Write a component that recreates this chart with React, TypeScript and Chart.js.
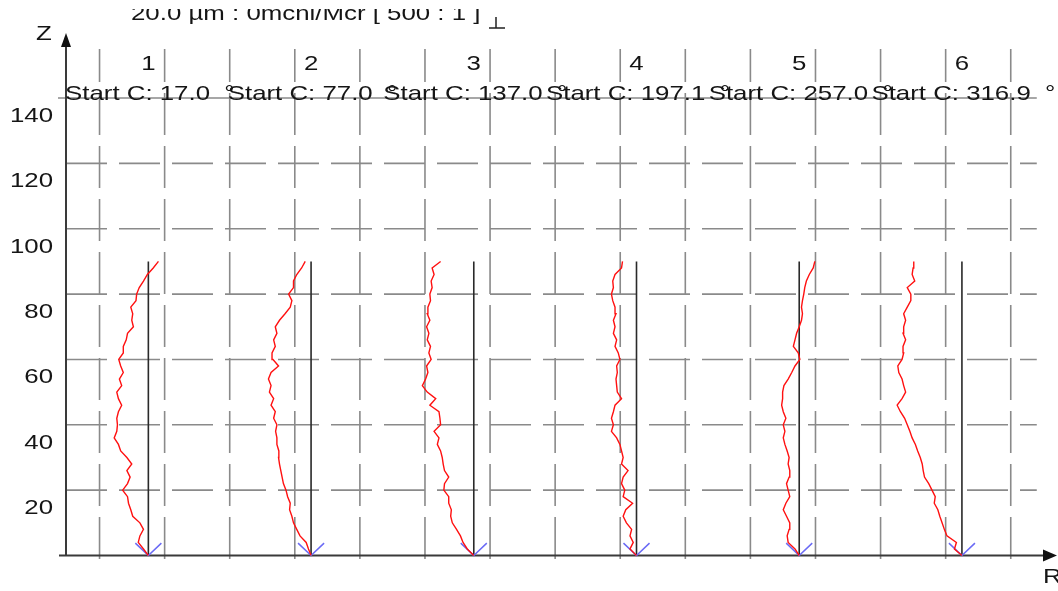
import React, { useEffect, useRef } from "react";
import { Chart, registerables } from "chart.js";

Chart.register(...registerables);

// ---- data ----
const Z_LEVELS = [0, 2, 4, 6, 8, 10, 12, 14, 16, 18, 20, 22, 24, 26, 28, 30, 32, 34, 36, 38, 40, 42, 44, 46, 48, 50, 52, 54, 56, 58, 60, 62, 64, 66, 68, 70, 72, 74, 76, 78, 80, 82, 84, 86, 88, 90];
const PROFILE_LABELS = ["1", "2", "3", "4", "5", "6"];
const START_ANGLES = ["17.0", "77.0", "137.0", "197.1", "257.0", "316.9"];
const PROFILE_R = [25, 75, 125, 175, 225, 275];
const PROFILE_TOP = 90;
const Y_TICKS = [20, 40, 60, 80, 100, 120, 140];
const GRID_R = [10, 30, 50, 70, 90, 110, 130, 150, 170, 190, 210, 230, 250, 270, 290];

const DEV_1 = [0, -1.5, -3.1, -2.6, -1.5, -2.6, -4.8, -5.4, -6.1, -6.4, -7.9, -6.4, -5.6, -6.6, -5.1, -6.6, -8.5, -9.2, -10.5, -9.7, -9.5, -9.7, -9.2, -8.2, -9.2, -9.7, -8.2, -8.9, -7.7, -8.5, -9.1, -7.7, -7.7, -6.8, -6.4, -4.6, -5.1, -4.8, -5.4, -3.8, -3.6, -2.8, -1.5, -0.3, 1.5, 3.1];
const DEV_2 = [0, -0.8, -1.5, -3.4, -4.4, -5.4, -5.9, -6.6, -6.4, -7.2, -7.7, -8.5, -8.9, -9.3, -9.7, -10.0, -9.9, -10.5, -10.5, -10.9, -10.5, -11.5, -11.0, -12.3, -11.5, -12.8, -12.3, -13.1, -12.3, -10.0, -11.7, -12.0, -11.0, -11.5, -10.5, -11.0, -9.7, -8.0, -6.4, -5.9, -6.9, -5.4, -5.4, -4.4, -2.9, -1.8];
const DEV_3 = [0, -2.0, -3.3, -4.1, -5.3, -6.6, -7.1, -6.9, -7.7, -7.7, -9.2, -9.0, -7.7, -9.0, -9.4, -9.7, -10.2, -11.2, -10.7, -12.2, -10.2, -10.4, -10.7, -13.5, -11.7, -14.3, -15.8, -14.8, -14.1, -14.5, -13.1, -13.8, -13.3, -14.3, -13.8, -14.5, -13.5, -14.3, -14.1, -13.3, -13.5, -12.8, -13.1, -12.2, -12.8, -10.2];
const DEV_4 = [0, -2.0, -1.0, -2.0, -1.5, -3.1, -4.1, -3.3, -1.2, -4.1, -3.6, -4.6, -4.1, -2.6, -4.6, -4.1, -4.6, -5.1, -6.1, -7.7, -7.1, -7.7, -7.1, -6.6, -4.6, -5.9, -6.1, -6.3, -5.9, -6.1, -5.1, -5.6, -6.6, -6.1, -7.1, -6.6, -7.1, -6.3, -6.6, -7.3, -7.7, -7.1, -7.3, -6.6, -4.6, -4.3];
const DEV_5 = [0, -1.3, -3.4, -3.7, -3.1, -2.9, -3.9, -4.9, -4.1, -2.9, -3.4, -3.9, -3.1, -2.9, -3.4, -3.1, -3.7, -4.4, -4.9, -4.4, -4.9, -4.1, -4.9, -5.4, -5.1, -5.1, -4.7, -3.4, -2.3, -1.3, 0.2, -0.3, -1.8, -1.3, -0.8, 0, 0.7, 1.0, 0.7, 1.0, 1.4, 1.7, 2.2, 3.1, 4.3, 4.8];
const DEV_6 = [0, -2.3, -1.7, -4.6, -5.4, -6.1, -6.8, -7.4, -8.5, -8.2, -9.2, -10.2, -11.5, -11.9, -12.2, -12.8, -13.6, -14.3, -15.3, -16.0, -16.8, -17.6, -18.9, -19.9, -18.4, -17.3, -17.9, -18.4, -19.4, -19.7, -18.4, -17.9, -18.1, -17.3, -18.1, -17.9, -17.3, -17.9, -16.8, -15.7, -15.7, -16.8, -14.5, -15.3, -15.0, -14.8];
const DEVIATIONS = [DEV_1, DEV_2, DEV_3, DEV_4, DEV_5, DEV_6];

const TITLE = "20.0 µm : 0mcnl/Mcr [ 500 : 1 ]";
const V_HALF = 4;
const V_HEIGHT = 3.8;

// ---- styles ----
const FONT = "21px 'Liberation Sans', Arial, Helvetica, sans-serif";
const HSCALE = 1.23;
const TEXT_COLOR = "#151515";
const GRID_COLOR = "#8a8a8a";
const AXIS_COLOR = "#3a3a3a";

function drawText(ctx: CanvasRenderingContext2D, text: string, x: number, y: number, align: CanvasTextAlign) {
  ctx.save();
  ctx.translate(x, y);
  ctx.scale(HSCALE, 1);
  ctx.font = FONT;
  ctx.fillStyle = TEXT_COLOR;
  ctx.textAlign = align;
  ctx.textBaseline = "alphabetic";
  ctx.fillText(text, 0, 0);
  ctx.restore();
}

const decorPlugin = {
  id: "decor",
  beforeDatasetsDraw(chart: any) {
    const ctx: CanvasRenderingContext2D = chart.ctx;
    const xs = chart.scales.x;
    const ys = chart.scales.y;
    ctx.save();
    ctx.strokeStyle = GRID_COLOR;
    ctx.lineWidth = 1.6;
    const hx0 = xs.getPixelForValue(0) - 9;
    const hx1 = xs.getPixelForValue(298);
    Y_TICKS.forEach((v) => {
      const y = ys.getPixelForValue(v);
      if (v === 140) {
        ctx.setLineDash([]);
      } else {
        ctx.setLineDash([41, 12]);
        ctx.lineDashOffset = 45;
      }
      ctx.beginPath();
      ctx.moveTo(hx0, y);
      ctx.lineTo(hx1, y);
      ctx.stroke();
    });
    const vy0 = ys.getPixelForValue(155);
    const vy1 = ys.bottom + 7;
    ctx.setLineDash([42, 11]);
    ctx.lineDashOffset = 9;
    GRID_R.forEach((r) => {
      const x = xs.getPixelForValue(r);
      ctx.beginPath();
      ctx.moveTo(x, vy0);
      ctx.lineTo(x, vy1);
      ctx.stroke();
    });
    ctx.setLineDash([]);
    ctx.strokeStyle = AXIS_COLOR;
    ctx.lineWidth = 2;
    const ax = xs.left - 1;
    const ay = ys.bottom;
    ctx.beginPath();
    ctx.moveTo(ax, ay);
    ctx.lineTo(ax, ys.top + 12);
    ctx.moveTo(xs.left - 8, ay);
    ctx.lineTo(xs.right - 12, ay);
    ctx.stroke();
    ctx.restore();
  },
  afterDatasetsDraw(chart: any) {
    const ctx: CanvasRenderingContext2D = chart.ctx;
    const xs = chart.scales.x;
    const ys = chart.scales.y;
    ctx.save();
    // arrowheads
    const ax = xs.left - 1;
    const ay = ys.bottom;
    ctx.fillStyle = "#111";
    ctx.beginPath();
    ctx.moveTo(ax, ys.top - 2);
    ctx.lineTo(ax - 5, ys.top + 12);
    ctx.lineTo(ax + 5, ys.top + 12);
    ctx.closePath();
    ctx.fill();
    ctx.beginPath();
    ctx.moveTo(xs.right + 2, ay);
    ctx.lineTo(xs.right - 12, ay - 6);
    ctx.lineTo(xs.right - 12, ay + 6);
    ctx.closePath();
    ctx.fill();
    // tick labels
    Y_TICKS.forEach((v) => {
      drawText(ctx, String(v), 53, ys.getPixelForValue(v) + 24, "right");
    });
    // axis names
    drawText(ctx, "Z", 36, 40, "left");
    drawText(ctx, "R", 1043, 583, "left");
    // profile labels
    PROFILE_R.forEach((r, i) => {
      const x = xs.getPixelForValue(r);
      drawText(ctx, PROFILE_LABELS[i], x, 70, "center");
      drawText(ctx, "Start C: " + START_ANGLES[i] + "  °", x + 1.5, 100, "center");
    });
    // partially hidden title
    ctx.save();
    ctx.beginPath();
    ctx.rect(0, 9, chart.width, 40);
    ctx.clip();
    drawText(ctx, TITLE, 131, 20, "left");
    ctx.strokeStyle = "#222";
    ctx.lineWidth = 1.5;
    ctx.beginPath();
    ctx.moveTo(496, 17);
    ctx.lineTo(496, 28);
    ctx.moveTo(489, 28);
    ctx.lineTo(505, 28);
    ctx.stroke();
    ctx.restore();
    ctx.restore();
  },
};

export default function App() {
  const canvasRef = useRef<HTMLCanvasElement | null>(null);

  useEffect(() => {
    if (!canvasRef.current) return;
    const traceSets = PROFILE_R.map((r, k) => ({
      label: "Profile " + PROFILE_LABELS[k],
      data: Z_LEVELS.map((z, i) => ({ x: r + DEVIATIONS[k][i], y: z })),
      showLine: true,
      borderColor: "#ff1010",
      borderWidth: 1.4,
      pointRadius: 0,
      tension: 0,
      clip: false,
    }));
    const vSets = PROFILE_R.map((r) => ({
      label: "start",
      data: [
        { x: r - V_HALF, y: V_HEIGHT },
        { x: r, y: 0 },
        { x: r + V_HALF, y: V_HEIGHT },
      ],
      showLine: true,
      borderColor: "#6a6af5",
      borderWidth: 1.5,
      pointRadius: 0,
      clip: false,
    }));
    const refSets = PROFILE_R.map((r) => ({
      label: "ref",
      data: [
        { x: r, y: PROFILE_TOP },
        { x: r, y: 0 },
      ],
      showLine: true,
      borderColor: "#2a2a2a",
      borderWidth: 1.6,
      pointRadius: 0,
      clip: false,
    }));
    const chart = new Chart(canvasRef.current, {
      type: "scatter",
      data: { datasets: [...traceSets, ...vSets, ...refSets] as any },
      options: {
        responsive: false,
        animation: false,
        events: [],
        layout: { padding: { left: 67, right: 3, top: 35, bottom: 35.5 } },
        plugins: { legend: { display: false }, tooltip: { enabled: false } },
        scales: {
          x: { type: "linear", min: 0, max: 303.6, display: false },
          y: { type: "linear", min: 0, max: 159.3, display: false },
        },
      },
      plugins: [decorPlugin],
    });
    return () => chart.destroy();
  }, []);

  return (
    <div style={{ position: "fixed", left: 0, top: 0, width: 1058, height: 591, background: "#fff" }}>
      <canvas ref={canvasRef} width={1058} height={591} style={{ display: "block" }} />
    </div>
  );
}
